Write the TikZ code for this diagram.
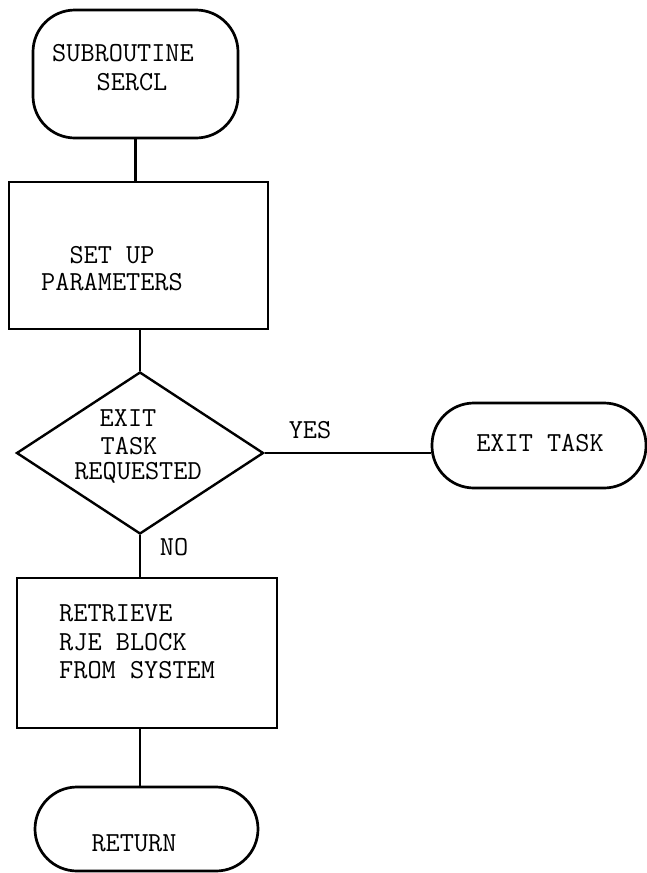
\documentclass[tikz,border=0pt]{standalone}
\usetikzlibrary{shapes.geometric}
\begin{document}
\begin{tikzpicture}[x=1pt,y=-1pt,
  conn/.style={line width=2.7pt},
  term/.style={draw, line width=2.7pt, rounded corners=42pt, inner sep=0pt},
  proc/.style={draw, line width=2.7pt, inner sep=0pt},
  decis/.style={draw, diamond, line width=2.4pt, inner sep=0pt},
  txt/.style={font=\fontsize{27.5}{29}\selectfont\ttfamily, inner sep=0pt},
]
\useasboundingbox (0,0) rectangle (647,873);
% shapes
\node[term, minimum width=205pt, minimum height=128pt] (start) at (135.5,74) {};
\node[proc, minimum width=259pt, minimum height=147pt] (setup) at (138.5,255.5) {};
\node[decis, minimum width=247pt, minimum height=162pt] (dia) at (140,453) {};
\node[term, minimum width=214pt, minimum height=85pt] (exit) at (539,445.5) {};
\node[proc, minimum width=260pt, minimum height=150pt] (retr) at (147,653) {};
\node[term, minimum width=223pt, minimum height=84pt] (rtn) at (146.5,829) {};
% connectors
\draw[conn] (start.south) -- (start.south |- setup.north);
\draw[conn] (setup.south -| dia.north) -- (dia.north);
\draw[conn] (dia.east) -- (dia.east -| exit.west);
\draw[conn] (dia.south) -- (dia.south |- retr.north);
\draw[conn] (dia.south |- retr.south) -- (dia.south |- rtn.north);
% texts
\node[txt] (t1) at (123,53) {SUBROUTINE};
\node[txt] (t2) at (132,82) {SERCL};
\node[txt] (t3) at (112,255) {SET UP};
\node[txt] (t4) at (112,282) {PARAMETERS};
\node[txt] (t5) at (128,418) {EXIT};
\node[txt] (t6) at (129,446) {TASK};
\node[txt] (t7) at (138,473) {REQUESTED};
\node[txt] (yes) at (310,430) {YES};
\node[txt] (no) at (174,547) {NO};
\node[txt] (t8) at (540,443) {EXIT TASK};
\node[txt, anchor=west] (t9) at (59,613) {RETRIEVE};
\node[txt, anchor=west] (t10) at (59,642) {RJE BLOCK};
\node[txt, anchor=west] (t11) at (59,670) {FROM SYSTEM};
\node[txt] (t12) at (134,843) {RETURN};
\end{tikzpicture}
\end{document}
